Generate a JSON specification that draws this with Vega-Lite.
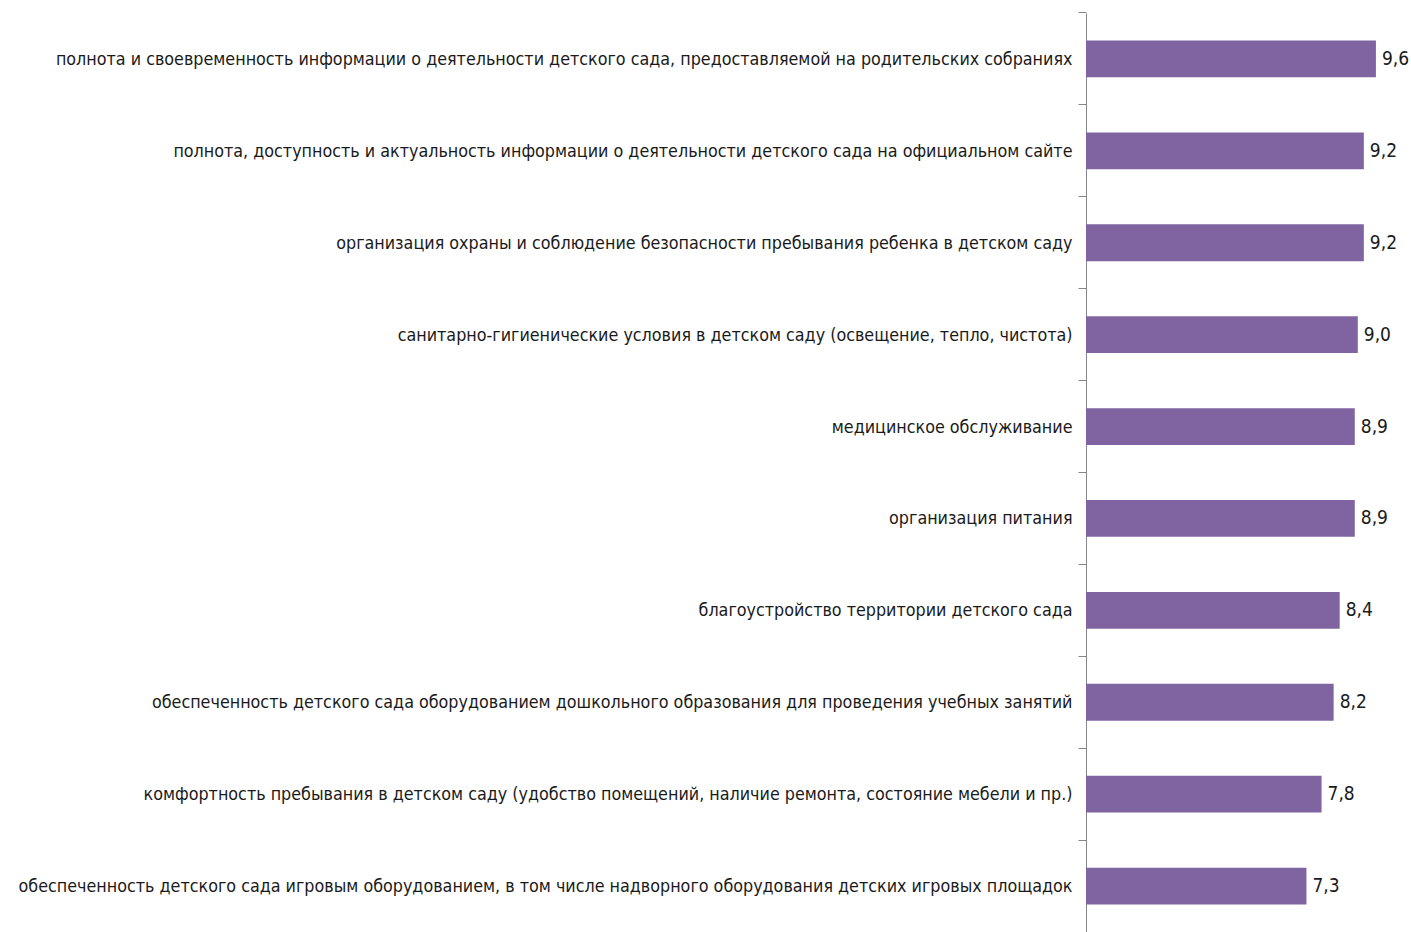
{
  "$schema": "https://vega.github.io/schema/vega-lite/v6.json",
  "autosize": "none",
  "width": 302,
  "height": 919,
  "padding": {"left": 1086, "top": 13, "right": 23, "bottom": 0},
  "config": {
    "view": {"stroke": null},
    "locale": {"number": {"decimal": ",", "thousands": " ", "grouping": [3], "currency": ["", " ₽"]}},
    "font": "DejaVu Sans Condensed"
  },
  "data": {
    "values": [
      {"item": "полнота и своевременность информации о деятельности детского сада, предоставляемой на родительских собраниях", "score": 9.6},
      {"item": "полнота, доступность и актуальность информации о деятельности детского сада на официальном сайте", "score": 9.2},
      {"item": "организация охраны и соблюдение безопасности пребывания ребенка в детском саду", "score": 9.2},
      {"item": "санитарно-гигиенические условия в детском саду (освещение, тепло, чистота)", "score": 9.0},
      {"item": "медицинское обслуживание", "score": 8.9},
      {"item": "организация питания", "score": 8.9},
      {"item": "благоустройство территории детского сада", "score": 8.4},
      {"item": "обеспеченность детского сада оборудованием дошкольного образования для проведения учебных занятий", "score": 8.2},
      {"item": "комфортность пребывания в детском саду (удобство помещений, наличие ремонта, состояние мебели и пр.)", "score": 7.8},
      {"item": "обеспеченность детского сада игровым оборудованием, в том числе надворного оборудования детских игровых площадок", "score": 7.3}
    ]
  },
  "encoding": {
    "y": {
      "field": "item",
      "type": "nominal",
      "sort": null,
      "scale": {"paddingInner": 0.6, "paddingOuter": 0.3},
      "axis": {
        "title": null,
        "bandPosition": -0.75,
        "domainColor": "#868686",
        "tickColor": "#868686",
        "tickSize": 8,
        "labelPadding": 6,
        "labelLimit": 0,
        "labelFontSize": 17.75,
        "labelColor": "#1a1a1a",
        "labelFont": "DejaVu Sans Condensed",
        "labelOffset": 1
      }
    },
    "x": {
      "field": "score",
      "type": "quantitative",
      "scale": {"domain": [0, 10]},
      "axis": null
    }
  },
  "layer": [
    {"mark": {"type": "bar", "color": "#8064A2"}},
    {
      "mark": {"type": "text", "align": "left", "dx": 6, "fontSize": 19, "color": "#1a1a1a", "font": "DejaVu Sans Condensed"},
      "encoding": {"text": {"field": "score", "type": "quantitative", "format": ".1f"}}
    }
  ]
}
